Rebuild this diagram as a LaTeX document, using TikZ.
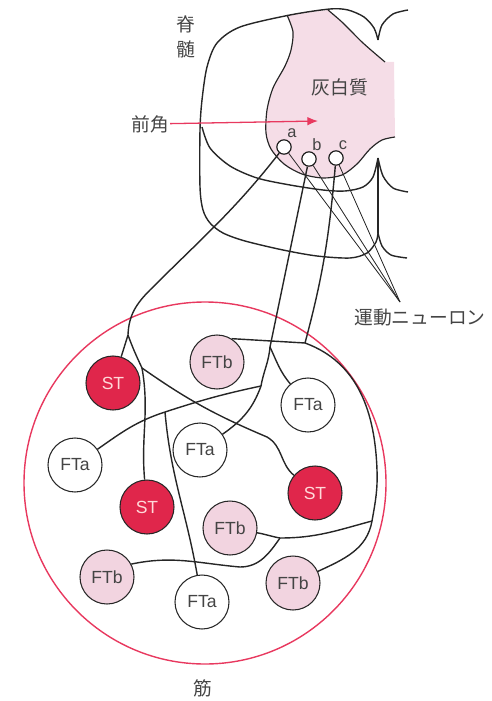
\documentclass[tikz,border=0pt]{standalone}
\usepackage{fontspec}
\setmainfont{Liberation Sans}
\newfontfamily\jp{Noto Sans CJK JP}
\usetikzlibrary{arrows.meta}
\definecolor{stred}{HTML}{E0264B}
\definecolor{ftbpink}{HTML}{F2D4E0}
\definecolor{graypink}{HTML}{F5DDE7}
\definecolor{ringred}{HTML}{E8395F}
\definecolor{txt}{HTML}{444444}
\begin{document}
\begin{tikzpicture}[x=0.3mm,y=0.3mm,
    fibre/.style={circle,draw=black!85,line width=0.9pt,minimum size=16.2mm,inner sep=0pt,font=\fontsize{15}{15}\selectfont},
    st/.style={fibre,fill=stred,text=pink!60},
    fta/.style={fibre,fill=white,text=txt},
    ftb/.style={fibre,fill=ftbpink,text=txt},
    soma/.style={circle,draw=black!90,line width=1pt,fill=white,minimum size=4.3mm,inner sep=0pt},
    axon/.style={line width=1.2pt,black!85},
    cord/.style={line width=1.2pt,black!85},
    lbl/.style={line width=0.7pt,black!85},
    jlabel/.style={text=txt,inner sep=1pt,font=\jp\fontsize{16}{21}\selectfont},
    letter/.style={text=txt,inner sep=0pt,font=\fontsize{14}{14}\selectfont}]
\useasboundingbox (0,0) rectangle (491,-701);

% grey matter
\fill[graypink] plot[smooth] coordinates {(287,-15) (293,-32) (291,-50) (285,-66) (273,-88) (267,-110) (266,-133) (271,-149) (284,-164) (302,-174) (323,-178) (342,-175) (357,-164) (370,-149) (382,-140) (395,-137)}
    -- (394,-62) -- (385,-62)
    -- plot[smooth] coordinates {(385,-62) (363,-43) (343,-23) (328,-10)} -- cycle;
\draw[line width=1pt,black!85] plot[smooth] coordinates {(287,-15) (293,-32) (291,-50) (285,-66) (273,-88) (267,-110) (266,-133) (271,-149) (284,-164) (302,-174) (323,-178) (342,-175) (357,-164) (370,-149) (382,-140) (395,-137)};
\draw[line width=1pt,black!85] plot[smooth] coordinates {(385,-62) (363,-43) (343,-23) (328,-10)};

% spinal cord outline
\draw[cord] plot[smooth] coordinates {(378,-40) (374,-28) (364,-17) (348,-10) (330,-9) (290,-15) (240,-27) (217,-43) (207,-67) (202,-100) (200,-130) (200,-187) (203,-210) (210,-223) (223,-233) (245,-241) (283,-250) (317,-256) (350,-258) (367,-253) (376,-242) (378,-233)};
\draw[cord] plot[smooth] coordinates {(202,-127) (210,-148) (230,-166) (257,-178) (290,-185) (323,-190) (345,-191) (363,-187) (373,-177) (378,-158)};
\draw[cord] (378,-158) -- (378,-233);
\draw[cord] plot[smooth] coordinates {(378,-40) (382,-25) (393,-14) (408,-10)};
\draw[cord] plot[smooth] coordinates {(378,-158) (383,-176) (393,-188) (408,-192)};
\draw[cord] plot[smooth] coordinates {(378,-233) (382,-246) (391,-255) (407,-258)};

% muscle
\draw[ringred,line width=1.2pt] (205,-483) circle (181);

\node[jlabel,align=center] (sekizui) at (186,-37) {脊\\髄};
\node[jlabel] (kaihaku) at (340,-87) {灰白質};
\node[jlabel] (zenkaku) at (150,-124) {前角};
\node[jlabel] (undo) at (420,-318) {運動ニューロン};
\node[jlabel] (kin) at (203,-688) {筋};

\node[soma] (mna) at (284,-147) {};
\node[soma] (mnb) at (309,-159) {};
\node[soma] (mnc) at (336,-158) {};
\node[letter] at (292,-133) {a};
\node[letter] at (317,-145) {b};
\node[letter] at (343,-145) {c};

\node[st] (st1) at (113,-383) {ST};
\node[ftb] (ftb1) at (217,-362) {FTb};
\node[fta] (fta1) at (308,-405) {FTa};
\node[fta] (fta2) at (75,-465) {FTa};
\node[fta] (fta3) at (200,-450) {FTa};
\node[st] (st2) at (315,-493) {ST};
\node[st] (st3) at (147,-507) {ST};
\node[ftb] (ftb2) at (230,-528) {FTb};
\node[ftb] (ftb3) at (107,-577) {FTb};
\node[fta] (fta4) at (202,-602) {FTa};
\node[ftb] (ftb4) at (293,-583) {FTb};

\coordinate (hornpt) at (318,-121);
\draw[ringred,line width=1.1pt,-{Latex[length=3.2mm,width=2.6mm]}] (zenkaku) -- (hornpt);

\coordinate (mnpt) at (400,-302);
\draw[lbl] (mna) -- (mnpt);
\draw[lbl] (mnb) -- (mnpt);
\draw[lbl] (mnc) -- (mnpt);

% a -> ST
\coordinate (ja) at (128,-335);
\coordinate (jst) at (142,-368);
\draw[axon] (mna) to[out=232,in=45] (150,-290) to[out=225,in=88] (ja) -- (st1);
\draw[axon] (ja) to[out=-70,in=115] (jst) to[out=-35,in=157] (267,-437) to[out=-30,in=140] (st2);
\draw[axon] (jst) to[out=-80,in=95] (st3);

% b -> FTa
\coordinate (jb1) at (270,-347);
\coordinate (jb2) at (261,-386);
\coordinate (jb3) at (165,-412);
\draw[axon] (mnb) -- (jb1) to[out=-95,in=80] (jb2) to[out=-110,in=35] (fta3);
\draw[axon] (jb1) to[out=-65,in=130] (fta1);
\draw[axon] (jb2) to[out=192,in=18] (jb3) to[out=198,in=35] (fta2);
\draw[axon] (jb3) to[out=-85,in=100] (fta4);

% c -> FTb
\coordinate (jc1) at (305,-343);
\coordinate (jc2) at (372,-521);
\coordinate (jc3) at (280,-538);
\draw[axon] (mnc) to[out=-95,in=75] (jc1);
\draw[axon] (ftb1.58) -- (jc1) to[out=-20,in=92] (377,-470) to[out=-88,in=80] (jc2) to[out=-100,in=25] (ftb4);
\draw[axon] (jc2) to[out=195,in=0] (jc3) to[out=170,in=-10] (ftb2);
\draw[axon] (jc3) to[out=-125,in=0] (240,-567) to[out=175,in=12] (ftb3.28);
\end{tikzpicture}
\end{document}
